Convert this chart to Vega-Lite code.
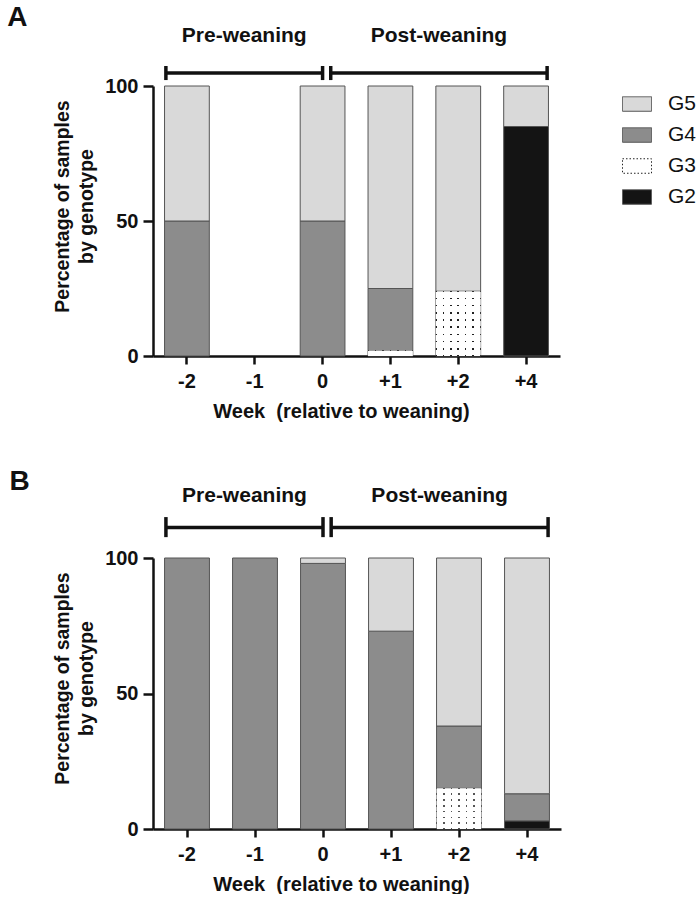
{
  "$schema": "https://vega.github.io/schema/vega-lite/v6.json",
  "padding": {"left": 7, "top": 3, "right": 0, "bottom": 0},
  "background": "white",
  "spacing": 47,
  "datasets": {
    "panelA": [
      {"week": "-2", "genotype": "G4", "pct": 50},
      {"week": "-2", "genotype": "G5", "pct": 50},
      {"week": "0", "genotype": "G4", "pct": 50},
      {"week": "0", "genotype": "G5", "pct": 50},
      {"week": "+1", "genotype": "G3", "pct": 2},
      {"week": "+1", "genotype": "G4", "pct": 23},
      {"week": "+1", "genotype": "G5", "pct": 75},
      {"week": "+2", "genotype": "G3", "pct": 24},
      {"week": "+2", "genotype": "G5", "pct": 76},
      {"week": "+4", "genotype": "G2", "pct": 85},
      {"week": "+4", "genotype": "G5", "pct": 15}
    ],
    "panelB": [
      {"week": "-2", "genotype": "G4", "pct": 100},
      {"week": "-1", "genotype": "G4", "pct": 100},
      {"week": "0", "genotype": "G4", "pct": 98},
      {"week": "0", "genotype": "G5", "pct": 2},
      {"week": "+1", "genotype": "G4", "pct": 73},
      {"week": "+1", "genotype": "G5", "pct": 27},
      {"week": "+2", "genotype": "G3", "pct": 15},
      {"week": "+2", "genotype": "G4", "pct": 23},
      {"week": "+2", "genotype": "G5", "pct": 62},
      {"week": "+4", "genotype": "G2", "pct": 3},
      {"week": "+4", "genotype": "G4", "pct": 10},
      {"week": "+4", "genotype": "G5", "pct": 87}
    ],
    "brackets": [
      {"period": "Pre-weaning", "start": 0.19, "end": 2.5},
      {"period": "Post-weaning", "start": 2.62, "end": 5.81}
    ]
  },
  "vconcat": [
    {
      "width": 407,
      "height": 270,
      "resolve": {"scale": {"x": "independent"}, "axis": {"y": "independent"}},
      "layer": [
        {
          "data": {"name": "panelA"},
          "mark": {"type": "bar", "stroke": "#555555", "strokeWidth": 1},
          "encoding": {
            "x": {"field": "week", "type": "nominal", "sort": null,
              "scale": {"domain": ["-2", "-1", "0", "+1", "+2", "+4"], "paddingInner": 0.34, "paddingOuter": 0.17},
              "axis": {"title": "Week \u00a0(relative to weaning)", "labelAngle": 0, "tickSize": 8, "labelPadding": 7, "titlePadding": 10, "titleFontSize": 20, "titleX": 188}},
            "y": {"field": "pct", "type": "quantitative", "stack": "zero",
              "scale": {"domain": [0, 100], "nice": false},
              "axis": {"values": [0, 50, 100], "title": ["Percentage of samples", "by genotype"], "tickSize": 10, "labelPadding": 5, "grid": false, "titleFontSize": 19.5, "titleLineHeight": 24, "titlePadding": 8, "titleY": 120}},
            "color": {"field": "genotype", "type": "nominal",
              "scale": {"domain": ["G5", "G4", "G3", "G2"], "range": ["#d9d9d9", "#8c8c8c", "#ffffff", "#141414"]},
              "legend": {"title": null, "encode": {"symbols": {"update": {
                "strokeDash": {"signal": "datum.value === 'G3' ? [1.5, 2] : [1, 0]"},
                "stroke": {"signal": "datum.value === 'G3' ? '#222222' : '#555555'"}}}}}},
            "order": {"field": "genotype", "sort": "ascending"}
          }
        },
        {
          "data": {"name": "panelA"},
          "transform": [{"filter": "datum.genotype === 'G3'"}],
          "mark": {"type": "bar", "strokeWidth": 0},
          "encoding": {
            "x": {"field": "week", "type": "nominal", "sort": null,
              "scale": {"domain": ["-2", "-1", "0", "+1", "+2", "+4"], "paddingInner": 0.34, "paddingOuter": 0.17}, "axis": null},
            "y": {"field": "pct", "type": "quantitative", "stack": "zero", "scale": {"domain": [0, 100], "nice": false}, "axis": null},
            "fill": {
              "condition": {"test": "datum.week === '+1'", "value": {"gradient": "linear", "x1": 0, "y1": 0, "x2": 0, "y2": 1, "stops": [
                {"offset": 0, "color": "#222222"}, {"offset": 0.14, "color": "#222222"}, {"offset": 0.14, "color": "#ffffff"}, {"offset": 1, "color": "#ffffff"}]}},
              "value": {"gradient": "linear", "x1": 0, "y1": 0, "x2": 0, "y2": 1, "stops": [
                {"offset": 0, "color": "#222222"}, {"offset": 0.012, "color": "#222222"}, {"offset": 0.012, "color": "#ffffff"},
                {"offset": 0.099, "color": "#ffffff"}, {"offset": 0.099, "color": "#222222"}, {"offset": 0.123, "color": "#222222"}, {"offset": 0.123, "color": "#ffffff"},
                {"offset": 0.210, "color": "#ffffff"}, {"offset": 0.210, "color": "#222222"}, {"offset": 0.234, "color": "#222222"}, {"offset": 0.234, "color": "#ffffff"},
                {"offset": 0.321, "color": "#ffffff"}, {"offset": 0.321, "color": "#222222"}, {"offset": 0.345, "color": "#222222"}, {"offset": 0.345, "color": "#ffffff"},
                {"offset": 0.432, "color": "#ffffff"}, {"offset": 0.432, "color": "#222222"}, {"offset": 0.456, "color": "#222222"}, {"offset": 0.456, "color": "#ffffff"},
                {"offset": 0.544, "color": "#ffffff"}, {"offset": 0.544, "color": "#222222"}, {"offset": 0.568, "color": "#222222"}, {"offset": 0.568, "color": "#ffffff"},
                {"offset": 0.655, "color": "#ffffff"}, {"offset": 0.655, "color": "#222222"}, {"offset": 0.679, "color": "#222222"}, {"offset": 0.679, "color": "#ffffff"},
                {"offset": 0.766, "color": "#ffffff"}, {"offset": 0.766, "color": "#222222"}, {"offset": 0.790, "color": "#222222"}, {"offset": 0.790, "color": "#ffffff"},
                {"offset": 0.877, "color": "#ffffff"}, {"offset": 0.877, "color": "#222222"}, {"offset": 0.901, "color": "#222222"}, {"offset": 0.901, "color": "#ffffff"},
                {"offset": 0.988, "color": "#ffffff"}, {"offset": 0.988, "color": "#222222"}, {"offset": 1, "color": "#222222"}]}
            }
          }
        },
        {
          "data": {"name": "panelA"},
          "transform": [{"filter": "datum.genotype === 'G3'"}],
          "mark": {"type": "bar", "strokeWidth": 0, "fill": {"gradient": "linear", "x1": 0, "y1": 0, "x2": 1, "y2": 0, "stops": [
            {"offset": 0, "color": "rgba(255,255,255,0)"}, {"offset": 0.017, "color": "rgba(255,255,255,0)"}, {"offset": 0.017, "color": "#ffffff"},
            {"offset": 0.150, "color": "#ffffff"}, {"offset": 0.150, "color": "rgba(255,255,255,0)"}, {"offset": 0.184, "color": "rgba(255,255,255,0)"}, {"offset": 0.184, "color": "#ffffff"},
            {"offset": 0.316, "color": "#ffffff"}, {"offset": 0.316, "color": "rgba(255,255,255,0)"}, {"offset": 0.350, "color": "rgba(255,255,255,0)"}, {"offset": 0.350, "color": "#ffffff"},
            {"offset": 0.483, "color": "#ffffff"}, {"offset": 0.483, "color": "rgba(255,255,255,0)"}, {"offset": 0.517, "color": "rgba(255,255,255,0)"}, {"offset": 0.517, "color": "#ffffff"},
            {"offset": 0.650, "color": "#ffffff"}, {"offset": 0.650, "color": "rgba(255,255,255,0)"}, {"offset": 0.684, "color": "rgba(255,255,255,0)"}, {"offset": 0.684, "color": "#ffffff"},
            {"offset": 0.816, "color": "#ffffff"}, {"offset": 0.816, "color": "rgba(255,255,255,0)"}, {"offset": 0.850, "color": "rgba(255,255,255,0)"}, {"offset": 0.850, "color": "#ffffff"},
            {"offset": 0.983, "color": "#ffffff"}, {"offset": 0.983, "color": "rgba(255,255,255,0)"}, {"offset": 1, "color": "rgba(255,255,255,0)"}]}},
          "encoding": {
            "x": {"field": "week", "type": "nominal", "sort": null,
              "scale": {"domain": ["-2", "-1", "0", "+1", "+2", "+4"], "paddingInner": 0.34, "paddingOuter": 0.17}, "axis": null},
            "y": {"field": "pct", "type": "quantitative", "stack": "zero", "scale": {"domain": [0, 100], "nice": false}, "axis": null}
          }
        },
        {
          "data": {"name": "brackets"},
          "mark": {"type": "rule", "strokeWidth": 3.5, "color": "#111111"},
          "encoding": {
            "x": {"field": "start", "type": "quantitative", "scale": {"domain": [0, 6]}, "axis": null},
            "x2": {"field": "end"},
            "y": {"datum": 104.8, "scale": {"domain": [0, 100], "nice": false}, "axis": null}
          }
        },
        {
          "data": {"name": "brackets"},
          "transform": [{"fold": ["start", "end"], "as": ["side", "pos"]}],
          "mark": {"type": "rule", "strokeWidth": 3.5, "color": "#111111"},
          "encoding": {
            "x": {"field": "pos", "type": "quantitative", "scale": {"domain": [0, 6]}, "axis": null},
            "y": {"datum": 102.2, "scale": {"domain": [0, 100], "nice": false}, "axis": null},
            "y2": {"datum": 107.4}
          }
        },
        {
          "data": {"name": "brackets"},
          "transform": [{"calculate": "(datum.start + datum.end) / 2", "as": "mid"}],
          "mark": {"type": "text", "fontSize": 21, "fontWeight": "bold", "color": "#111111", "baseline": "middle"},
          "encoding": {
            "x": {"field": "mid", "type": "quantitative", "scale": {"domain": [0, 6]}, "axis": null},
            "y": {"datum": 118.5, "scale": {"domain": [0, 100], "nice": false}, "axis": null},
            "text": {"field": "period"}
          }
        },
        {
          "data": {"values": [{"panel": "A"}]},
          "mark": {"type": "text", "fontSize": 28, "fontWeight": "bold", "color": "#111111", "baseline": "middle"},
          "encoding": {
            "x": {"datum": -2.0, "type": "quantitative", "scale": {"domain": [0, 6]}, "axis": null},
            "y": {"datum": 125.2, "scale": {"domain": [0, 100], "nice": false}, "axis": null},
            "text": {"field": "panel"}
          }
        }
      ]
    },
    {
      "width": 408,
      "height": 271,
      "resolve": {"scale": {"x": "independent"}, "axis": {"y": "independent"}},
      "layer": [
        {
          "data": {"name": "panelB"},
          "mark": {"type": "bar", "stroke": "#555555", "strokeWidth": 1},
          "encoding": {
            "x": {"field": "week", "type": "nominal", "sort": null,
              "scale": {"domain": ["-2", "-1", "0", "+1", "+2", "+4"], "paddingInner": 0.34, "paddingOuter": 0.17},
              "axis": {"title": "Week \u00a0(relative to weaning)", "labelAngle": 0, "tickSize": 8, "labelPadding": 7, "titlePadding": 10, "titleFontSize": 20, "titleX": 188}},
            "y": {"field": "pct", "type": "quantitative", "stack": "zero",
              "scale": {"domain": [0, 100], "nice": false},
              "axis": {"values": [0, 50, 100], "title": ["Percentage of samples", "by genotype"], "tickSize": 10, "labelPadding": 5, "grid": false, "titleFontSize": 19.5, "titleLineHeight": 24, "titlePadding": 8, "titleY": 120}},
            "color": {"field": "genotype", "type": "nominal",
              "scale": {"domain": ["G5", "G4", "G3", "G2"], "range": ["#d9d9d9", "#8c8c8c", "#ffffff", "#141414"]},
              "legend": {"title": null, "encode": {"symbols": {"update": {
                "strokeDash": {"signal": "datum.value === 'G3' ? [1.5, 2] : [1, 0]"},
                "stroke": {"signal": "datum.value === 'G3' ? '#444444' : '#555555'"}}}}}},
            "order": {"field": "genotype", "sort": "ascending"}
          }
        },
        {
          "data": {"name": "panelB"},
          "transform": [{"filter": "datum.genotype === 'G3'"}],
          "mark": {"type": "bar", "strokeWidth": 0, "fill": {"gradient": "linear", "x1": 0, "y1": 0, "x2": 0, "y2": 1, "stops": [
            {"offset": 0, "color": "#555555"}, {"offset": 0.018, "color": "#555555"}, {"offset": 0.018, "color": "#ffffff"},
            {"offset": 0.125, "color": "#ffffff"}, {"offset": 0.125, "color": "#555555"}, {"offset": 0.161, "color": "#555555"}, {"offset": 0.161, "color": "#ffffff"},
            {"offset": 0.268, "color": "#ffffff"}, {"offset": 0.268, "color": "#555555"}, {"offset": 0.304, "color": "#555555"}, {"offset": 0.304, "color": "#ffffff"},
            {"offset": 0.411, "color": "#ffffff"}, {"offset": 0.411, "color": "#555555"}, {"offset": 0.447, "color": "#555555"}, {"offset": 0.447, "color": "#ffffff"},
            {"offset": 0.553, "color": "#ffffff"}, {"offset": 0.553, "color": "#555555"}, {"offset": 0.589, "color": "#555555"}, {"offset": 0.589, "color": "#ffffff"},
            {"offset": 0.696, "color": "#ffffff"}, {"offset": 0.696, "color": "#555555"}, {"offset": 0.732, "color": "#555555"}, {"offset": 0.732, "color": "#ffffff"},
            {"offset": 0.839, "color": "#ffffff"}, {"offset": 0.839, "color": "#555555"}, {"offset": 0.875, "color": "#555555"}, {"offset": 0.875, "color": "#ffffff"},
            {"offset": 0.982, "color": "#ffffff"}, {"offset": 0.982, "color": "#555555"}, {"offset": 1, "color": "#555555"}]}},
          "encoding": {
            "x": {"field": "week", "type": "nominal", "sort": null,
              "scale": {"domain": ["-2", "-1", "0", "+1", "+2", "+4"], "paddingInner": 0.34, "paddingOuter": 0.17}, "axis": null},
            "y": {"field": "pct", "type": "quantitative", "stack": "zero", "scale": {"domain": [0, 100], "nice": false}, "axis": null}
          }
        },
        {
          "data": {"name": "panelB"},
          "transform": [{"filter": "datum.genotype === 'G3'"}],
          "mark": {"type": "bar", "strokeWidth": 0, "fill": {"gradient": "linear", "x1": 0, "y1": 0, "x2": 1, "y2": 0, "stops": [
            {"offset": 0, "color": "rgba(255,255,255,0)"}, {"offset": 0.017, "color": "rgba(255,255,255,0)"}, {"offset": 0.017, "color": "#ffffff"},
            {"offset": 0.150, "color": "#ffffff"}, {"offset": 0.150, "color": "rgba(255,255,255,0)"}, {"offset": 0.184, "color": "rgba(255,255,255,0)"}, {"offset": 0.184, "color": "#ffffff"},
            {"offset": 0.316, "color": "#ffffff"}, {"offset": 0.316, "color": "rgba(255,255,255,0)"}, {"offset": 0.350, "color": "rgba(255,255,255,0)"}, {"offset": 0.350, "color": "#ffffff"},
            {"offset": 0.483, "color": "#ffffff"}, {"offset": 0.483, "color": "rgba(255,255,255,0)"}, {"offset": 0.517, "color": "rgba(255,255,255,0)"}, {"offset": 0.517, "color": "#ffffff"},
            {"offset": 0.650, "color": "#ffffff"}, {"offset": 0.650, "color": "rgba(255,255,255,0)"}, {"offset": 0.684, "color": "rgba(255,255,255,0)"}, {"offset": 0.684, "color": "#ffffff"},
            {"offset": 0.816, "color": "#ffffff"}, {"offset": 0.816, "color": "rgba(255,255,255,0)"}, {"offset": 0.850, "color": "rgba(255,255,255,0)"}, {"offset": 0.850, "color": "#ffffff"},
            {"offset": 0.983, "color": "#ffffff"}, {"offset": 0.983, "color": "rgba(255,255,255,0)"}, {"offset": 1, "color": "rgba(255,255,255,0)"}]}},
          "encoding": {
            "x": {"field": "week", "type": "nominal", "sort": null,
              "scale": {"domain": ["-2", "-1", "0", "+1", "+2", "+4"], "paddingInner": 0.34, "paddingOuter": 0.17}, "axis": null},
            "y": {"field": "pct", "type": "quantitative", "stack": "zero", "scale": {"domain": [0, 100], "nice": false}, "axis": null}
          }
        },
        {
          "data": {"name": "brackets"},
          "mark": {"type": "rule", "strokeWidth": 3.5, "color": "#111111"},
          "encoding": {
            "x": {"field": "start", "type": "quantitative", "scale": {"domain": [0, 6]}, "axis": null},
            "x2": {"field": "end"},
            "y": {"datum": 111.3, "scale": {"domain": [0, 100], "nice": false}, "axis": null}
          }
        },
        {
          "data": {"name": "brackets"},
          "transform": [{"fold": ["start", "end"], "as": ["side", "pos"]}],
          "mark": {"type": "rule", "strokeWidth": 3.5, "color": "#111111"},
          "encoding": {
            "x": {"field": "pos", "type": "quantitative", "scale": {"domain": [0, 6]}, "axis": null},
            "y": {"datum": 107.7, "scale": {"domain": [0, 100], "nice": false}, "axis": null},
            "y2": {"datum": 115.1}
          }
        },
        {
          "data": {"name": "brackets"},
          "transform": [{"calculate": "(datum.start + datum.end) / 2", "as": "mid"}],
          "mark": {"type": "text", "fontSize": 21, "fontWeight": "bold", "color": "#111111", "baseline": "middle"},
          "encoding": {
            "x": {"field": "mid", "type": "quantitative", "scale": {"domain": [0, 6]}, "axis": null},
            "y": {"datum": 122.9, "scale": {"domain": [0, 100], "nice": false}, "axis": null},
            "text": {"field": "period"}
          }
        },
        {
          "data": {"values": [{"panel": "B"}]},
          "mark": {"type": "text", "fontSize": 28, "fontWeight": "bold", "color": "#111111", "baseline": "middle"},
          "encoding": {
            "x": {"datum": -1.96, "type": "quantitative", "scale": {"domain": [0, 6]}, "axis": null},
            "y": {"datum": 128, "scale": {"domain": [0, 100], "nice": false}, "axis": null},
            "text": {"field": "panel"}
          }
        }
      ]
    }
  ],
  "config": {
    "font": "Liberation Sans",
    "view": {"stroke": null},
    "axis": {
      "domainColor": "#111111", "domainWidth": 2.5,
      "tickColor": "#111111", "tickWidth": 2.5,
      "labelFont": "Liberation Sans", "labelFontSize": 20, "labelFontWeight": "bold", "labelColor": "#111111",
      "titleFont": "Liberation Sans", "titleFontWeight": "bold", "titleColor": "#111111"
    },
    "legend": {
      "orient": "right",
      "offset": 58,
      "padding": 3,
      "symbolType": "M-1,-0.5H1V0.5H-1Z",
      "symbolSize": 841,
      "symbolStrokeColor": "#555555",
      "symbolStrokeWidth": 1,
      "symbolOpacity": 1,
      "labelFont": "Liberation Sans",
      "labelFontSize": 21,
      "labelColor": "#111111",
      "labelOffset": 16,
      "rowPadding": 6
    }
  }
}
